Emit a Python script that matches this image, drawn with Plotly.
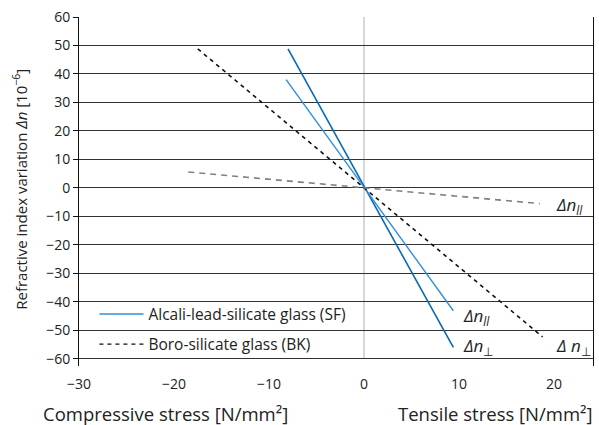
import plotly.graph_objects as go

# Data (stress in N/mm², refractive index variation in 1e-6)
sf_perp_x = [-8.0, 9.4]
sf_perp_y = [48.8, -56.0]
sf_par_x = [-8.2, 9.4]
sf_par_y = [38.0, -43.1]
bk_perp_x = [-17.5, 18.8]
bk_perp_y = [48.8, -52.3]
bk_par_x = [-18.5, 18.5]
bk_par_y = [5.6, -5.5]

x_ticks = [-30, -20, -10, 0, 10, 20]
x_tick_labels = ["\u221230", "\u221220", "\u221210", "0", "10", "20"]
y_ticks = list(range(-60, 61, 10))
y_tick_labels = [("\u2212" + str(-v)) if v < 0 else str(v) for v in y_ticks]

FONT = "Open Sans"
BLUE_D = "#0a69b5"
BLUE_L = "#2f8fd6"

fig = go.Figure()
fig.add_trace(go.Scatter(x=sf_perp_x, y=sf_perp_y, mode="lines",
                         line=dict(color=BLUE_D, width=1.6), showlegend=False))
fig.add_trace(go.Scatter(x=sf_par_x, y=sf_par_y, mode="lines",
                         line=dict(color=BLUE_L, width=1.4), showlegend=False))
fig.add_trace(go.Scatter(x=bk_perp_x, y=bk_perp_y, mode="lines",
                         line=dict(color="#111111", width=1.6, dash="4px,4px"), showlegend=False))
fig.add_trace(go.Scatter(x=bk_par_x, y=bk_par_y, mode="lines",
                         line=dict(color="#808080", width=1.6, dash="6px,5px"), showlegend=False))

# legend entries
fig.add_trace(go.Scatter(x=[None], y=[None], mode="lines", name="Alcali-lead-silicate glass (SF)",
                         line=dict(color=BLUE_L, width=1.4), legendgroup="a"))
fig.add_trace(go.Scatter(x=[None], y=[None], mode="lines", name="Boro-silicate glass (BK)",
                         line=dict(color="#111111", width=1.4, dash="4px,4px"), legendgroup="b"))

# vertical line at 0
fig.add_shape(type="line", x0=0, x1=0, y0=-60, y1=60, xref="x", yref="y",
              line=dict(color="#b0b0b0", width=1), layer="below")

lab_font = dict(family=FONT, size=17, color="#222222")
par = "<i>\u0394n</i><sub><i>ll</i></sub>"
perp = "<i>\u0394n</i><sub>\u22a5</sub>"
perp2 = "<i>\u0394 n</i><sub>\u22a5</sub>"
annos = [
    dict(x=20.0, y=-6.0, text=par),
    dict(x=10.2, y=-45.0, text=par),
    dict(x=10.2, y=-55.8, text=perp),
    dict(x=20.0, y=-55.8, text=perp2),
]
for a in annos:
    fig.add_annotation(x=a["x"], y=a["y"], text=a["text"], showarrow=False,
                       xanchor="left", yanchor="middle", font=lab_font)

fig.add_annotation(text="Compressive stress [N/mm\u00b2]", x=0, y=0, xref="paper", yref="paper",
                   showarrow=False, xanchor="left", yanchor="middle", xshift=-38, yshift=-47,
                   font=dict(family=FONT, size=18.5, color="#222222"))
fig.add_annotation(text="Tensile stress [N/mm\u00b2]", x=1, y=0, xref="paper", yref="paper",
                   showarrow=False, xanchor="right", yanchor="middle", xshift=2, yshift=-47,
                   font=dict(family=FONT, size=18.5, color="#222222"))
fig.add_annotation(text="Refractive index variation <i>\u0394n</i> [10<sup>\u22126</sup>]",
                   x=0, y=0.505, xref="paper", yref="paper", textangle=-90,
                   showarrow=False, xanchor="center", yanchor="middle", xshift=-59,
                   font=dict(family=FONT, size=15, color="#222222"))

fig.update_layout(
    width=599, height=425,
    margin=dict(l=79, r=6, t=17, b=59),
    paper_bgcolor="white", plot_bgcolor="white",
    font=dict(family=FONT, size=14, color="#222222"),
    showlegend=True,
    legend=dict(x=0.03, y=0.105, xanchor="left", yanchor="middle",
                bgcolor="rgba(0,0,0,0)", font=dict(family=FONT, size=15.5, color="#222222"),
                traceorder="grouped", tracegroupgap=7, itemwidth=44),
    xaxis=dict(range=[-30, 24.1], tickvals=x_ticks, ticktext=x_tick_labels,
               showgrid=False, zeroline=False, showline=False, ticks="",
               ticklabelstandoff=8, tickfont=dict(size=14), automargin=False),
    yaxis=dict(range=[-62.5, 60], tickvals=y_ticks, ticktext=y_tick_labels,
               showgrid=True, gridcolor="#333333", gridwidth=1, zeroline=False,
               showline=True, linecolor="#111111", linewidth=1, mirror=True,
               ticks="outside", ticklen=5, tickcolor="#111111",
               tickfont=dict(size=14), automargin=False),
)

fig.write_html("out.html", config={"displayModeBar": False},
               post_script="document.body.style.margin='0';")
